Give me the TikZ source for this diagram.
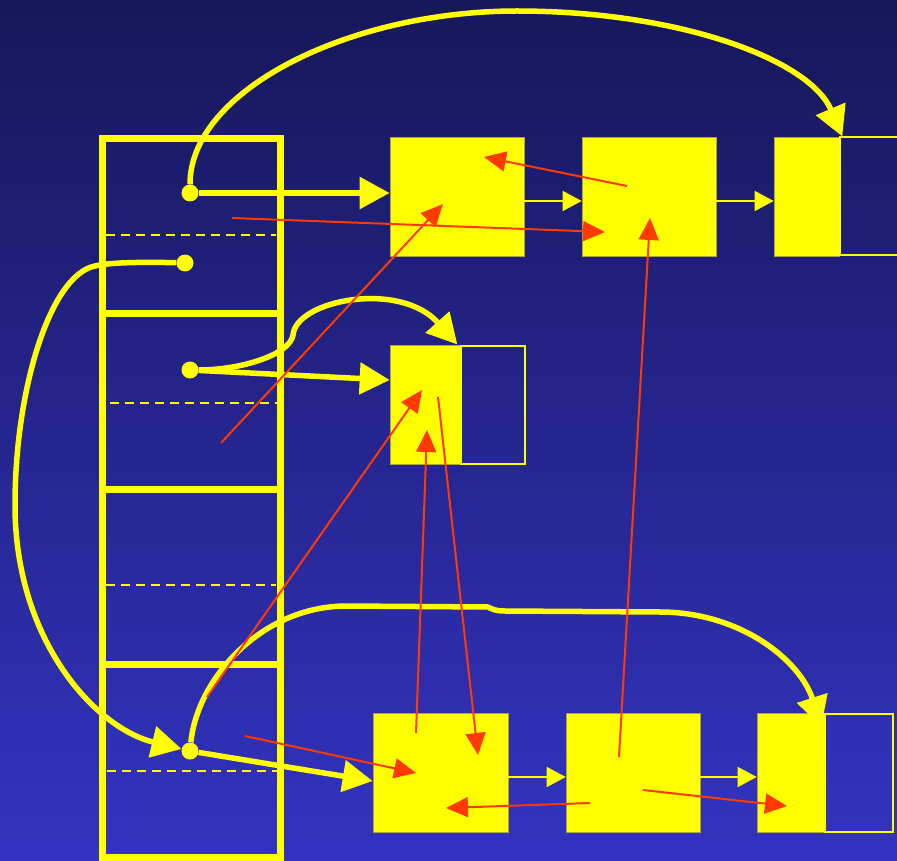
\documentclass[tikz,border=0pt]{standalone}
\usepackage{xcolor}
\usepackage{tikz}
\usetikzlibrary{arrows.meta,calc}
\definecolor{cbgtop}{HTML}{17175A}
\definecolor{cbgbot}{HTML}{3333C2}
\definecolor{cyel}{HTML}{FFFF00}
\definecolor{cred}{HTML}{FF3A00}
\definecolor{cedge}{HTML}{B0A040}
\tikzset{
  fat/.style={cyel,line width=5.5pt,-{Triangle[length=30pt,width=31pt]}},
  link/.style={cyel,line width=1.5pt,-{Triangle[length=19pt,width=20pt]}},
  ptr/.style={cred,line width=2pt,-{Triangle[length=22pt,width=20pt]}},
  full/.style={fill=cyel,draw=cedge,line width=0.6pt,inner sep=0pt,minimum height=119pt},
  hollow/.style={draw=cyel,line width=2pt,inner sep=0pt,minimum height=118pt},
  knob/.style={circle,fill=cyel,inner sep=0pt,minimum size=17pt},
  rowline/.style={cyel,line width=7pt},
  midline/.style={cyel,line width=2pt,dash pattern=on 9pt off 6pt}
}

\begin{document}
\begin{tikzpicture}[x=1pt,y=-1pt]

% ===== background =====
\shade[top color=cbgtop,bottom color=cbgbot] (0,0) rectangle (897,861);
\useasboundingbox (0,0) rectangle (897,861);
\clip (0,0) rectangle (897,861);

% ===== table of slots =====
\draw[rowline] (102,139) rectangle (280,857);
\foreach \y in {313,489,664} \draw[rowline] (102,\y) -- (280,\y);
\draw[midline] (106,235) -- (276,235);
\draw[midline] (110,403) -- (289,403);
\draw[midline] (106,585) -- (276,585);
\draw[midline] (107,771) -- (286,771);

% ===== cells =====
\node[full,minimum width=134pt] (a1) at (457,196.5) {};
\node[full,minimum width=134pt] (b1) at (649,196.5) {};
\node[full,minimum width=65pt] (c1) at (806.5,196.5) {};
\node[hollow,minimum width=68pt,anchor=west] (c2) at (c1.east) {};
\node[full,minimum width=70pt] (m1) at (425,404.5) {};
\node[hollow,minimum width=64pt,anchor=west] (m2) at (m1.east) {};
\node[full,minimum width=135pt] (d1) at (440.5,772.5) {};
\node[full,minimum width=134pt] (e1) at (633,772.5) {};
\node[full,minimum width=67pt] (f1) at (790.5,772.5) {};
\node[hollow,minimum width=68pt,anchor=west] (f2) at (f1.east) {};

% slot pointers
\node[knob] (p1) at (190,193) {};
\node[knob] (p2) at (185,263) {};
\node[knob] (p3) at (190,370) {};
\node[knob] (p4) at (190,751) {};

% ===== thick links =====
\draw[fat] (p1) -- (p1 -| a1.west);
\draw[fat] (p1) .. controls (190,90) and (350,11) .. (517,11) .. controls (680,11) and (810,60) .. ([xshift=3pt]c2.north west);
\draw[fat] (p2) .. controls (150,262) and (110,262) .. (95,266) .. controls (50,275) and (15,390) .. (15,505) .. controls (15,640) and (95,728) .. (p4);
\draw[fat] (p3) -- ([yshift=24.5pt]m1.west);
\draw[fat] (p3) .. controls (240,370) and (290,355) .. (293,335) .. controls (296,300) and (400,280) .. ([xshift=-3pt]m2.north west);
\draw[fat] (p4) -- ([yshift=-8.5pt]d1.west);
\draw[fat] (p4) .. controls (197,680) and (260,607) .. (345,606) -- (488,607)
  .. controls (492,609) and (495,611) .. (505,611) -- (660,612)
  .. controls (740,612) and (800,660) .. ([shift={(-3,14)}]f2.north west);

% thin next links
\draw[link] ([yshift=-4.5pt]a1.east) -- ([yshift=-4.5pt]b1.west);
\draw[link] ([yshift=-4.5pt]b1.east) -- ([yshift=-4.5pt]c1.west);
\draw[link] ([yshift=-4.5pt]d1.east) -- ([yshift=-4.5pt]e1.west);
\draw[link] ([yshift=-4.5pt]e1.east) -- ([yshift=-4.5pt]f1.west);

% ===== red pointers =====
\coordinate (t1) at (232,218);
\coordinate (t2) at (221,443);
\coordinate (t3) at (207,697);
\coordinate (t4) at (245,736);
\draw[ptr] (t1) -- ($(b1)+(-44,35.5)$);
\draw[ptr] ($(b1)+(-22,-10.5)$) -- ($(a1)+(27,-39.5)$);
\draw[ptr] (t2) -- ($(a1)+(-14,7.5)$);
\draw[ptr] ($(e1)+(-14,-15.5)$) -- ($(b1)+(1,21.5)$);
\draw[ptr] ($(d1)+(-24.5,-39.5)$) -- ($(m1)+(2,25.5)$);
\draw[ptr] ($(m1)+(13,-7.5)$) -- ($(d1)+(37.5,-17.5)$);
\draw[ptr] (t3) -- ($(m1)+(-3,-14.5)$);
\draw[ptr] (t4) -- ($(d1)+(-24.5,0.5)$);
\draw[ptr] ($(e1)+(-43,30.5)$) -- ($(d1)+(5.5,35.5)$);
\draw[ptr] ($(e1)+(10,17.5)$) -- ($(f1)+(-3.5,33.5)$);

\end{tikzpicture}
\end{document}
